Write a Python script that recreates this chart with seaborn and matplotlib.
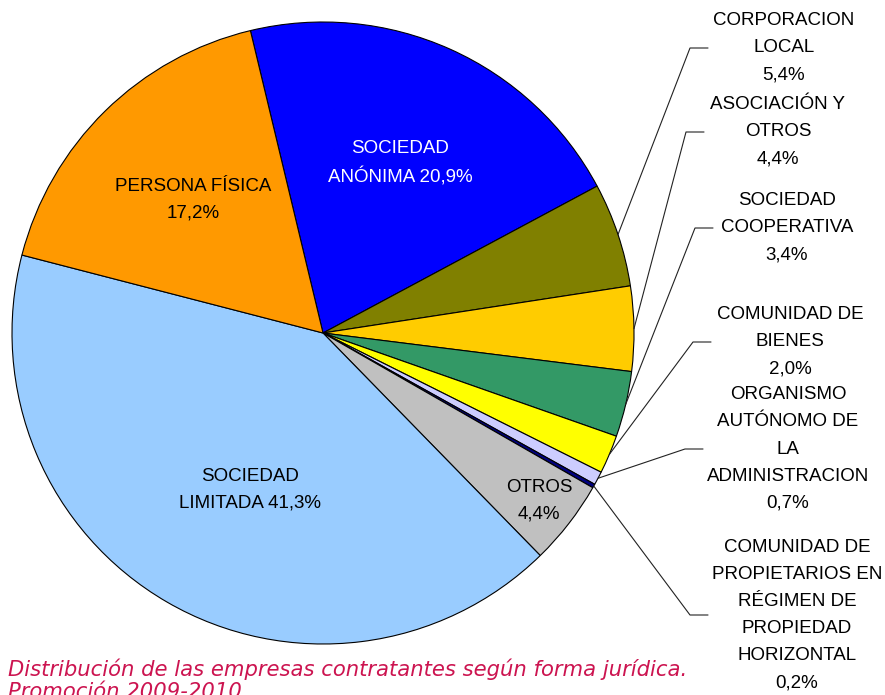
import matplotlib
matplotlib.use("Agg")
import matplotlib.pyplot as plt
import seaborn as sns
import numpy as np

# --------------------------
# Data
# --------------------------
names = ["SOCIEDAD\nANÓNIMA", "CORPORACION\nLOCAL", "ASOCIACIÓN Y\nOTROS",
         "SOCIEDAD\nCOOPERATIVA", "COMUNIDAD DE\nBIENES",
         "ORGANISMO\nAUTÓNOMO DE\nLA\nADMINISTRACION",
         "COMUNIDAD DE\nPROPIETARIOS EN\nRÉGIMEN DE\nPROPIEDAD\nHORIZONTAL",
         "OTROS", "SOCIEDAD\nLIMITADA", "PERSONA FÍSICA"]
shares = [20.9, 5.4, 4.4, 3.4, 2.0, 0.7, 0.2, 4.4, 41.3, 17.2]
colors = ["#0000FF", "#808000", "#FFCC00", "#339966", "#FFFF00",
          "#CCCCFF", "#000080", "#C0C0C0", "#99CCFF", "#FF9900"]
caption = "Distribución de las empresas contratantes según forma jurídica.\nPromoción 2009-2010"

def pct(v):
    return f"{v:.1f}%".replace(".", ",")

# --------------------------
# Figure setup
# --------------------------
sns.set_theme(style="white")
plt.rcParams["font.family"] = ["Liberation Sans", "DejaVu Sans"]

W, H = 885, 695
fig = plt.figure(figsize=(W / 100, H / 100), dpi=100)
ax = fig.add_axes([0, 0, 1, 1])

def Y(y):
    # image pixel row -> data y
    return H - y

cx, cy, r = 323, Y(333), 311
wedges, _ = ax.pie(shares, colors=sns.color_palette(colors), startangle=103.5,
                   counterclock=False, radius=r, center=(cx, cy),
                   wedgeprops=dict(edgecolor="black", linewidth=0.8))

ax.set_xlim(0, W)
ax.set_ylim(0, H)
ax.set_aspect("equal")
ax.axis("off")

fs = 13.5

# labels inside the pie
inside = {0: ("SOCIEDAD\nANÓNIMA " + pct(shares[0]), 400, 163, "white"),
          9: ("PERSONA FÍSICA\n" + pct(shares[9]), 193, 200, "black"),
          8: ("SOCIEDAD\nLIMITADA " + pct(shares[8]), 250, 490, "black"),
          7: ("OTROS\n" + pct(shares[7]), 539, 501, "black")}
for i, (txt, x, y, c) in inside.items():
    ax.text(x, Y(y), txt, ha="center", va="center", multialignment="center",
            fontsize=fs, color=c, linespacing=1.7)

# labels outside with leader lines: (elbow x, elbow y, text centre x)
outside = {1: (690, 48, 784), 2: (686, 132, 778), 3: (695, 228, 787),
           4: (693, 342, 790), 5: (685, 449, 788), 6: (690, 615, 797)}
for i, (ex, ey, tx) in outside.items():
    w = wedges[i]
    mid = np.deg2rad((w.theta1 + w.theta2) / 2)
    px, py = cx + r * np.cos(mid), cy + r * np.sin(mid)
    ax.plot([px, ex, ex + 18], [py, Y(ey), Y(ey)], color="#222222", lw=0.8)
    ax.text(tx, Y(ey), names[i] + "\n" + pct(shares[i]), ha="center", va="center",
            multialignment="center", fontsize=fs, color="black", linespacing=1.78)

ax.text(8, Y(659), caption, ha="left", va="top", fontsize=15.2, style="italic",
        family=["DejaVu Sans"], color="#CC1450", linespacing=1.12)

fig.savefig("out.png", dpi=100)
plt.close(fig)
